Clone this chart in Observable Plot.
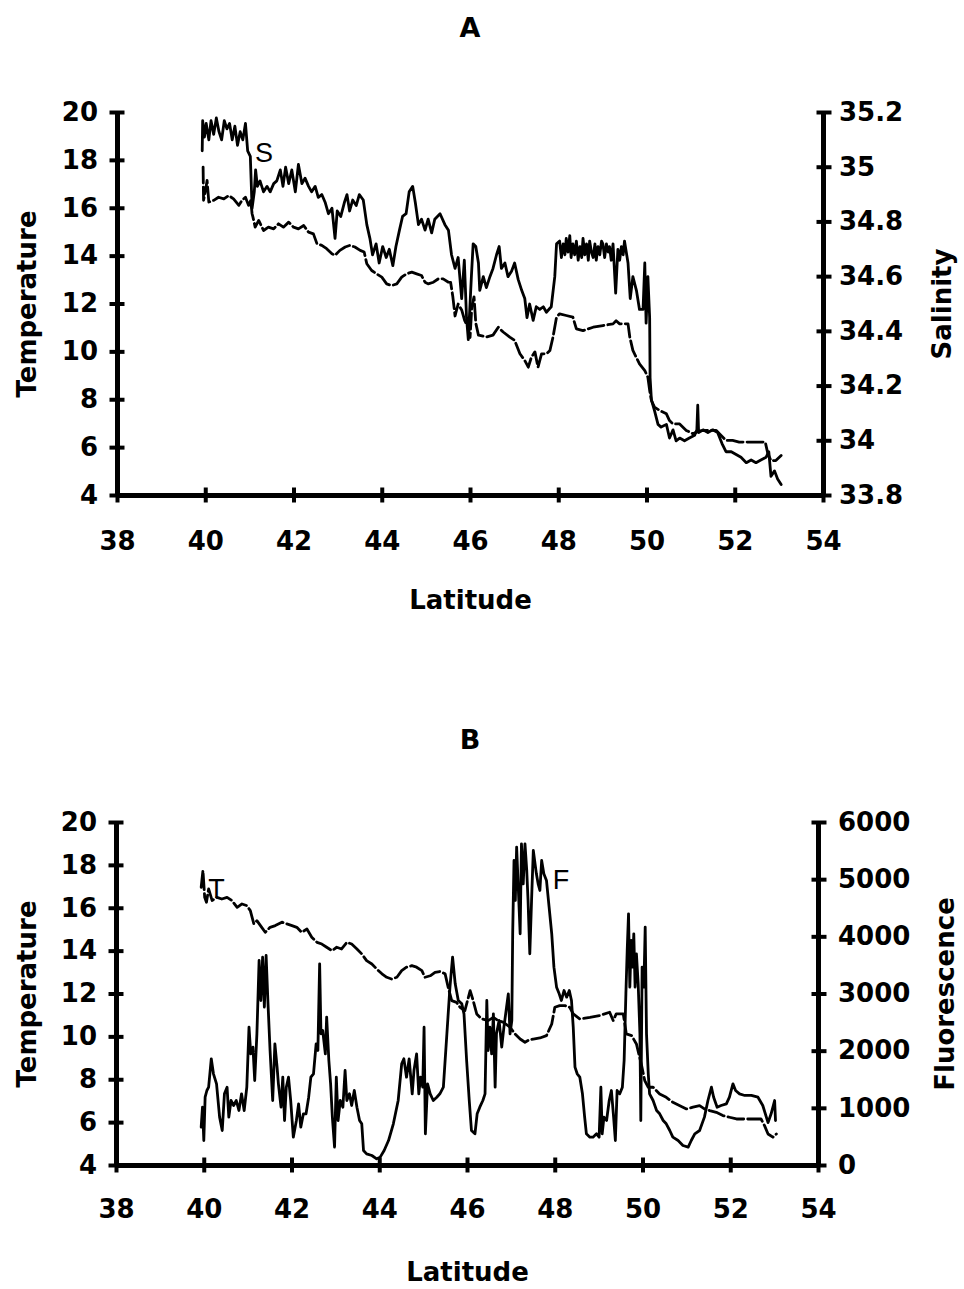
<!DOCTYPE html>
<html><head><meta charset="utf-8">
<script src="https://cdn.jsdelivr.net/npm/d3@7"></script>
<script src="https://cdn.jsdelivr.net/npm/@observablehq/plot@0.6"></script>
<style>
body{margin:0;background:#fff;}
#wrap{width:964px;position:relative;font-family:"DejaVu Sans",sans-serif;}
.ttl{width:940px;text-align:center;font-weight:bold;font-size:27px;color:#000;}
</style></head><body><div id="wrap">
<div class="ttl" style="height:55px;line-height:55px;">A</div>
<div id="pa"></div>
<div class="ttl" style="height:125px;box-sizing:border-box;padding-top:80px;line-height:30px;">B</div>
<div id="pb"></div>
</div>
<script>
// ---------- axis ticks ----------
const latTicks = [38, 40, 42, 44, 46, 48, 50, 52, 54];
const tempTicks = [4, 6, 8, 10, 12, 14, 16, 18, 20];
const salTicks = [33.8, 34, 34.2, 34.4, 34.6, 34.8, 35, 35.2];
const fluorTicks = [0, 1000, 2000, 3000, 4000, 5000, 6000];

// ---------- Panel A: salinity (solid) ----------
const latSalA = [39.92,39.93,39.97,40.01,40.07,40.12,40.18,40.24,40.30,40.36,40.42,40.48,40.54,40.60,40.66,40.72,40.78,40.84,40.90,40.95,41.01,41.05,41.10,41.13,41.17,41.23,41.31,41.39,41.46,41.54,41.61,41.69,41.75,41.81,41.88,41.95,42.03,42.10,42.18,42.25,42.33,42.40,42.48,42.55,42.63,42.71,42.78,42.86,42.93,42.98,43.06,43.14,43.20,43.26,43.33,43.41,43.48,43.57,43.65,43.72,43.78,43.86,43.93,44.01,44.09,44.16,44.24,44.31,44.39,44.46,44.54,44.61,44.69,44.75,44.82,44.89,44.97,45.04,45.12,45.19,45.31,45.42,45.50,45.57,45.65,45.72,45.80,45.86,45.91,45.95,46.02,46.06,46.12,46.18,46.21,46.29,46.36,46.44,46.51,46.59,46.65,46.70,46.78,46.85,46.93,47.00,47.08,47.16,47.23,47.28,47.34,47.42,47.49,47.57,47.65,47.72,47.83,47.91,47.95,48.02,48.06,48.10,48.14,48.17,48.21,48.25,48.28,48.32,48.36,48.40,48.44,48.48,48.52,48.55,48.59,48.63,48.67,48.70,48.74,48.78,48.82,48.85,48.89,48.93,48.97,49.00,49.04,49.08,49.12,49.15,49.19,49.23,49.29,49.34,49.38,49.42,49.46,49.49,49.57,49.62,49.68,49.76,49.83,49.91,49.95,49.98,50.02,50.06,50.07,50.10,50.17,50.25,50.32,50.44,50.51,50.59,50.66,50.74,50.85,50.96,51.08,51.13,51.15,51.17,51.27,51.38,51.49,51.60,51.70,51.79,51.91,52.02,52.13,52.25,52.36,52.47,52.58,52.70,52.76,52.81,52.89,52.96,53.04];
const salA = [35.06,35.17,35.11,35.16,35.10,35.17,35.12,35.18,35.13,35.10,35.17,35.14,35.16,35.10,35.15,35.08,35.13,35.10,35.16,35.06,35.04,34.85,34.91,34.99,34.93,34.95,34.91,34.93,34.91,34.94,34.95,34.99,34.93,35.00,34.94,34.99,34.91,35.01,34.94,34.96,34.93,34.91,34.93,34.89,34.90,34.87,34.83,34.85,34.74,34.84,34.82,34.87,34.90,34.84,34.88,34.86,34.90,34.88,34.79,34.74,34.68,34.72,34.65,34.71,34.67,34.70,34.64,34.71,34.77,34.82,34.83,34.91,34.93,34.87,34.79,34.81,34.77,34.81,34.76,34.81,34.83,34.79,34.77,34.68,34.63,34.67,34.52,34.66,34.45,34.37,34.60,34.72,34.71,34.65,34.55,34.60,34.56,34.60,34.63,34.68,34.71,34.63,34.65,34.60,34.62,34.65,34.59,34.55,34.52,34.45,34.50,34.44,34.49,34.48,34.49,34.47,34.49,34.60,34.72,34.73,34.67,34.72,34.68,34.74,34.69,34.75,34.67,34.72,34.68,34.73,34.66,34.71,34.67,34.74,34.68,34.72,34.66,34.73,34.69,34.67,34.72,34.66,34.71,34.68,34.73,34.72,34.67,34.72,34.69,34.71,34.66,34.72,34.54,34.70,34.66,34.71,34.68,34.73,34.65,34.52,34.60,34.55,34.48,34.48,34.65,34.43,34.60,34.45,34.23,34.15,34.11,34.06,34.05,34.06,34.01,34.04,34.00,34.01,34.00,34.01,34.02,34.04,34.13,34.03,34.04,34.03,34.04,34.03,33.99,33.96,33.96,33.95,33.94,33.92,33.93,33.92,33.93,33.94,33.96,33.87,33.89,33.86,33.84];

// ---------- Panel A: temperature (dashed) ----------
const latTempA = [39.94,39.95,40.00,40.03,40.07,40.18,40.29,40.41,40.52,40.63,40.75,40.82,40.90,40.97,41.02,41.05,41.07,41.12,41.20,41.31,41.42,41.54,41.65,41.76,41.88,41.99,42.10,42.22,42.33,42.44,42.52,42.63,42.74,42.86,42.93,43.04,43.16,43.27,43.38,43.50,43.59,43.65,43.76,43.87,43.99,44.10,44.21,44.33,44.44,44.55,44.67,44.78,44.89,44.97,45.04,45.16,45.27,45.38,45.50,45.55,45.60,45.65,45.72,45.80,45.87,45.95,45.99,46.03,46.08,46.12,46.18,46.21,46.36,46.51,46.63,46.74,46.89,47.00,47.12,47.23,47.31,47.38,47.46,47.53,47.61,47.72,47.80,47.87,47.95,48.02,48.17,48.32,48.40,48.55,48.78,49.00,49.23,49.30,49.38,49.46,49.57,49.61,49.68,49.83,49.95,50.02,50.06,50.10,50.17,50.29,50.44,50.51,50.59,50.74,50.89,51.04,51.19,51.34,51.57,51.68,51.79,51.94,52.09,52.32,52.55,52.68,52.74,52.81,52.92,53.04];
const tempA = [17.72,16.33,16.80,17.16,16.26,16.33,16.46,16.39,16.53,16.39,16.12,16.33,16.46,16.12,16.33,15.77,15.63,15.21,15.49,15.07,15.21,15.14,15.35,15.21,15.42,15.21,15.14,15.28,15.00,14.93,14.52,14.45,14.31,14.10,14.03,14.24,14.38,14.45,14.38,14.24,14.17,13.68,13.40,13.26,13.12,12.84,12.77,12.84,13.12,13.26,13.33,13.26,13.19,12.91,12.84,12.91,13.05,13.05,12.91,12.90,12.30,11.50,12.00,11.75,11.30,11.00,10.60,11.90,12.30,11.20,10.70,10.69,10.62,10.70,11.03,10.83,10.62,10.48,9.92,9.64,9.36,9.78,10.00,9.36,9.92,9.92,10.06,10.62,11.45,11.59,11.52,11.45,10.96,10.89,11.03,11.10,11.17,11.30,11.17,11.17,11.17,10.62,10.06,9.50,9.22,8.94,8.39,7.97,7.69,7.55,7.41,7.13,6.99,6.99,6.72,6.58,6.70,6.72,6.72,6.51,6.30,6.30,6.23,6.23,6.23,6.23,5.74,5.46,5.46,5.67];

// ---------- Panel B: temperature (dashed) ----------
const latTempB = [39.93,39.97,40.01,40.05,40.10,40.18,40.29,40.40,40.52,40.63,40.75,40.86,40.97,41.05,41.13,41.20,41.31,41.39,41.50,41.62,41.77,41.88,42.00,42.11,42.22,42.34,42.45,42.57,42.68,42.79,42.91,43.02,43.13,43.25,43.36,43.48,43.59,43.70,43.82,43.93,44.05,44.16,44.27,44.39,44.50,44.61,44.73,44.84,44.96,45.03,45.15,45.26,45.37,45.49,45.56,45.64,45.75,45.83,45.94,46.06,46.13,46.21,46.32,46.47,46.59,46.70,46.82,46.97,47.08,47.20,47.31,47.38,47.50,47.65,47.80,47.92,47.99,48.10,48.22,48.33,48.41,48.56,48.79,49.01,49.24,49.32,49.39,49.55,49.62,49.74,49.85,49.96,50.04,50.12,50.23,50.38,50.53,50.68,50.84,50.99,51.14,51.29,51.40,51.52,51.67,51.82,51.97,52.13,52.28,52.43,52.58,52.69,52.77,52.85,52.96,53.04];
const tempB = [16.98,17.76,16.51,16.28,16.90,16.36,16.51,16.43,16.51,16.36,16.04,16.20,16.12,15.89,15.27,15.42,15.11,14.88,15.11,15.19,15.35,15.27,15.19,15.11,14.88,15.03,14.65,14.41,14.33,14.18,14.02,14.18,14.10,14.41,14.33,14.10,13.87,13.56,13.40,13.17,12.94,12.78,12.70,12.78,13.09,13.25,13.32,13.25,13.09,12.78,12.85,13.01,13.05,12.94,12.31,11.69,11.61,11.38,11.22,12.16,11.69,11.07,10.84,10.76,10.91,10.76,10.68,10.45,10.14,9.90,9.75,9.83,9.90,9.95,10.06,10.60,11.38,11.46,11.46,11.38,11.07,10.84,10.91,10.99,11.15,10.76,11.07,11.07,10.14,10.06,9.67,8.74,7.96,7.65,7.65,7.34,7.18,6.95,6.79,6.64,6.72,6.79,6.64,6.56,6.48,6.33,6.25,6.17,6.17,6.17,6.17,6.17,5.86,5.47,5.32,5.47];

// ---------- Panel B: fluorescence (solid) ----------
const latFluorB = [39.93,39.96,39.99,40.02,40.06,40.10,40.16,40.21,40.28,40.35,40.41,40.46,40.52,40.56,40.61,40.67,40.73,40.79,40.85,40.91,40.97,41.02,41.06,41.11,41.15,41.20,41.25,41.29,41.33,41.37,41.41,41.45,41.50,41.56,41.61,41.66,41.69,41.75,41.79,41.83,41.87,41.92,41.97,42.03,42.10,42.15,42.20,42.26,42.32,42.38,42.43,42.49,42.55,42.59,42.63,42.66,42.70,42.76,42.79,42.84,42.88,42.92,42.97,43.01,43.05,43.10,43.16,43.21,43.25,43.31,43.36,43.42,43.48,43.54,43.59,43.63,43.70,43.82,43.93,44.01,44.10,44.20,44.31,44.42,44.50,44.55,44.61,44.67,44.74,44.78,44.84,44.89,44.93,44.98,45.01,45.04,45.09,45.15,45.22,45.30,45.37,45.45,45.53,45.60,45.66,45.72,45.79,45.87,45.92,45.98,46.04,46.09,46.17,46.22,46.28,46.35,46.40,46.44,46.47,46.51,46.55,46.59,46.63,46.66,46.72,46.78,46.83,46.89,46.93,46.97,47.01,47.03,47.06,47.09,47.12,47.16,47.20,47.23,47.27,47.31,47.35,47.38,47.42,47.46,47.50,47.54,47.57,47.61,47.65,47.69,47.74,47.80,47.86,47.92,47.97,48.03,48.09,48.14,48.20,48.26,48.32,48.37,48.41,48.45,48.50,48.56,48.62,48.67,48.71,48.79,48.86,48.94,49.00,49.04,49.07,49.11,49.17,49.23,49.28,49.33,49.37,49.41,49.47,49.53,49.57,49.61,49.64,49.67,49.70,49.73,49.76,49.79,49.82,49.85,49.89,49.93,49.95,49.98,50.02,50.05,50.08,50.12,50.15,50.23,50.31,50.38,50.46,50.53,50.61,50.68,50.80,50.91,51.03,51.10,51.18,51.29,51.40,51.48,51.56,51.61,51.69,51.78,51.90,51.97,52.05,52.11,52.20,52.32,52.47,52.62,52.73,52.85,52.92,53.00,53.02];
const fluorB = [671,1020,437,1195,1312,1370,1866,1604,1429,846,612,1254,1370,846,1137,1050,1137,962,1254,962,1370,2420,1953,2070,1487,2303,3586,2886,3644,2770,3674,2886,2012,1137,2129,1720,1429,1020,1545,787,1370,1545,1137,496,787,1079,671,904,904,1195,1545,1604,2129,2012,3528,2303,2362,1953,2595,1837,1429,846,321,1545,787,1137,1020,1662,1137,1254,1050,1312,1020,787,729,262,204,175,117,146,262,437,729,1137,1779,1866,1545,1866,1254,1662,1953,1254,1545,1370,2420,554,1429,1254,1137,1195,1254,1370,2303,3120,3644,3178,2886,2828,2653,1837,1137,612,554,904,1020,1137,1254,2886,2012,2420,1953,2653,1370,2303,2537,2070,2420,2770,3003,2303,2537,4053,5335,4636,5569,4811,4053,5627,4927,5627,5161,4636,3703,4636,5510,5277,5102,4927,4811,5335,5102,4986,4520,4053,3470,3120,3003,2886,3061,2945,3061,2886,2420,1720,1604,1545,1254,846,554,496,496,554,496,1370,554,846,787,1137,1312,846,437,1312,1254,1370,1837,3003,3761,4402,3120,3936,3470,4053,3120,3703,3178,2303,787,3470,3120,4170,2303,1604,1254,1137,962,904,787,729,612,496,437,350,321,437,554,612,846,1137,1370,1195,1020,1050,1079,1195,1429,1312,1254,1225,1225,1195,1050,750,904,1137,787];

// ---------- series labels ----------
const labelsA = [{lat: 41.32, v: 18.3, text: "S"}];
const labelsB = [{lat: 40.28, v: 16.9, text: "T"}, {lat: 48.13, v: 17.3, text: "F"}];

// ---------- build tables ----------
const zip = (xs, vs) => xs.map((x, i) => ({lat: x, v: vs[i]}));
const salAData = zip(latSalA, salA);
const tempAData = zip(latTempA, tempA);
const tempBData = zip(latTempB, tempB);
const fluorBData = zip(latFluorB, fluorB);

// secondary scales mapped onto the temperature scale
const yFromS = s => 4 + (s - 33.8) / 1.4 * 16;
const sFromY = y => 33.8 + (y - 4) / 16 * 1.4;
const yFromF = f => 4 + f / 6000 * 16;
const fFromY = y => (y - 4) / 16 * 6000;

const STYLE = "font-family:'DejaVu Sans',sans-serif;font-size:26px;font-weight:bold;color:#000;background:#fff;overflow:visible;";
const LW = 2.8, DASH = "16,4";
const LABEL_FONT = "'Liberation Sans',Arial,sans-serif";

function frame(o) {
  return [
    Plot.ruleX([38, 54], {stroke: "#000", strokeWidth: 5}),
    Plot.ruleY([4], {stroke: "#000", strokeWidth: 5}),
    Plot.axisX(latTicks, {anchor: "bottom", tickSize: 15, insetBottom: 7.5, strokeWidth: 4, tickPadding: o.xpad, tickFormat: d => String(d), label: null}),
    Plot.axisY(tempTicks, {anchor: "left", tickSize: 15, insetLeft: 7.5, strokeWidth: 4, tickPadding: 12, tickFormat: d => String(d), label: null}),
    Plot.text(["Temperature"], {frameAnchor: "left", dx: o.tdx, rotate: -90, textAnchor: "middle", lineAnchor: "middle", fontSize: 26}),
    Plot.text([o.right], {frameAnchor: "right", dx: o.rdx, rotate: -90, textAnchor: "middle", lineAnchor: "middle", fontSize: 26}),
    Plot.text(["Latitude"], {frameAnchor: "bottom", dy: o.ldy, textAnchor: "middle", lineAnchor: "middle", fontSize: 26})
  ];
}

const plotA = Plot.plot({
  width: 964, height: 590,
  marginLeft: 117, marginRight: 141, marginTop: 57, marginBottom: 150,
  style: STYLE,
  x: {domain: [38, 54]},
  y: {domain: [4, 20]},
  marks: [
    Plot.line(tempAData, {x: "lat", y: "v", stroke: "#000", strokeWidth: LW, strokeDasharray: DASH}),
    Plot.line(salAData, {x: "lat", y: d => yFromS(d.v), stroke: "#000", strokeWidth: LW}),
    Plot.text(labelsA, {x: "lat", y: "v", text: "text", fontWeight: "normal", fontFamily: LABEL_FONT, fontSize: 27}),
    ...frame({tdx: -90, right: "Salinity", rdx: 119, ldy: 105, xpad: 29}),
    Plot.axisY(salTicks.map(yFromS), {anchor: "right", tickSize: 15, insetRight: 7.5, strokeWidth: 4, tickPadding: 8,
      tickFormat: d => String(Math.round(sFromY(d) * 10) / 10), label: null})
  ]
});
document.getElementById("pa").append(plotA);

const plotB = Plot.plot({
  width: 964, height: 519,
  marginLeft: 116, marginRight: 146, marginTop: 52, marginBottom: 124,
  style: STYLE,
  x: {domain: [38, 54]},
  y: {domain: [4, 20]},
  marks: [
    Plot.line(tempBData, {x: "lat", y: "v", stroke: "#000", strokeWidth: LW, strokeDasharray: DASH}),
    Plot.line(fluorBData, {x: "lat", y: d => yFromF(d.v), stroke: "#000", strokeWidth: LW}),
    Plot.text(labelsB, {x: "lat", y: "v", text: "text", fontWeight: "normal", fontFamily: LABEL_FONT, fontSize: 27}),
    ...frame({tdx: -89, right: "Fluorescence", rdx: 127, ldy: 107, xpad: 27}),
    Plot.axisY(fluorTicks.map(yFromF), {anchor: "right", tickSize: 15, insetRight: 7.5, strokeWidth: 4, tickPadding: 12,
      tickFormat: d => String(Math.round(fFromY(d))), label: null})
  ]
});
document.getElementById("pb").append(plotB);
</script>
</body></html>
